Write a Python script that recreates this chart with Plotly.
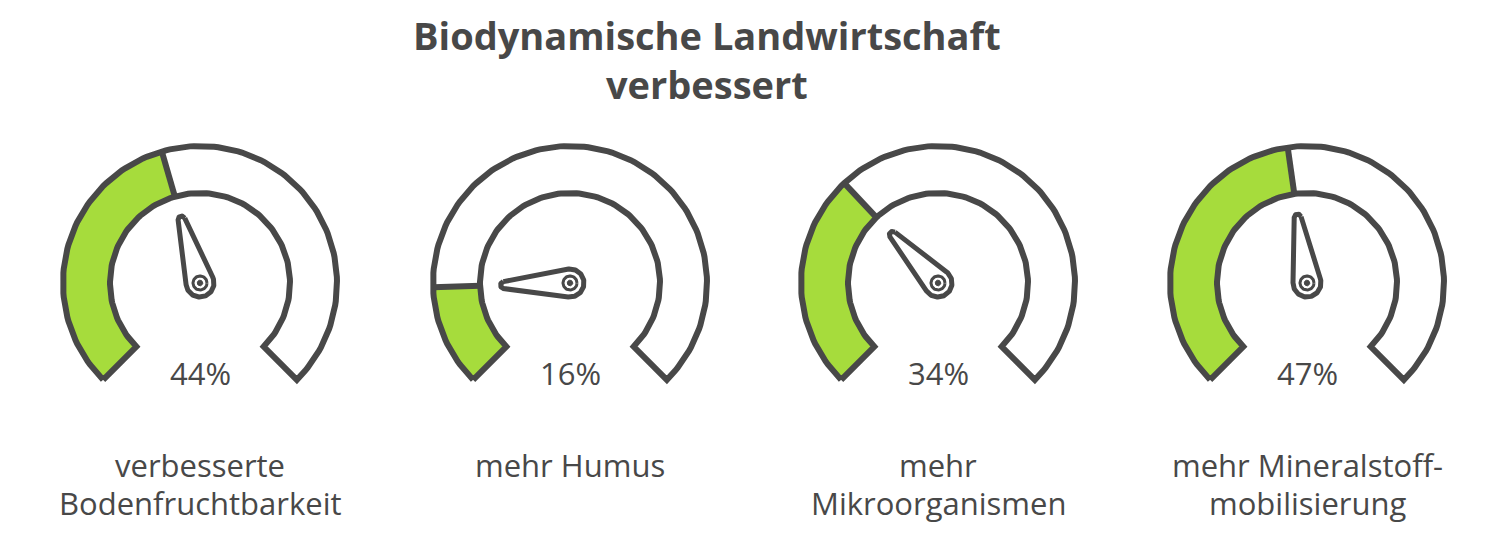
import numpy as np
import plotly.graph_objects as go

# ---- data ----
title_lines = ["Biodynamische Landwirtschaft", "verbessert"]
percents = [44, 16, 34, 47]
labels = [["verbesserte", "Bodenfruchtbarkeit"], ["mehr Humus"],
          ["mehr", "Mikroorganismen"], ["mehr Mineralstoff-", "mobilisierung"]]

# ---- style / layout ----
DARK = "#484848"
GREEN = "#a6dc3c"
FONT = "Open Sans"
W, H = 1500, 540
OFF = 8  # page body margin
centers_x = [200, 570, 938, 1307]
CY = 283
R_OUT, R_IN = 137, 90
START, SWEEP = 225.0, 270.0
NEEDLE_LEN, HUB_R, TIP_R = 66, 14, 3.5

fig = go.Figure()


def pt(cx, r, a, cy=CY):
    t = np.radians(a)
    return cx + r * np.cos(t), cy - r * np.sin(t)


def arc(cx, r, a0, a1, n=160, cy=CY):
    t = np.radians(np.linspace(a0, a1, n))
    return cx + r * np.cos(t), cy - r * np.sin(t)


def add_poly(xs, ys, fill=None, line_color=None, width=0):
    fig.add_trace(go.Scatter(
        x=list(xs), y=list(ys), mode="lines",
        fill="toself" if fill else None,
        fillcolor=fill if fill else None,
        line=dict(color=line_color if line_color else "rgba(0,0,0,0)", width=width),
        hoverinfo="skip", showlegend=False))


for cx, p, lab in zip(centers_x, percents, labels):
    a_val = START - SWEEP * p / 100.0
    a_end = START - SWEEP

    # white ring background
    ox, oy = arc(cx, R_OUT, START, a_end)
    ix, iy = arc(cx, R_IN, a_end, START)
    add_poly(np.r_[ox, ix, ox[:1]], np.r_[oy, iy, oy[:1]], fill="white")

    # green value sector
    gx, gy = arc(cx, R_OUT, START, a_val)
    hx, hy = arc(cx, R_IN, a_val, START)
    add_poly(np.r_[gx, hx, gx[:1]], np.r_[gy, hy, gy[:1]], fill=GREEN)

    # ring outline
    add_poly(np.r_[ox, ix, ox[:1]], np.r_[oy, iy, oy[:1]], line_color=DARK, width=6)

    # divider at value
    x0, y0 = pt(cx, R_IN, a_val)
    x1, y1 = pt(cx, R_OUT, a_val)
    add_poly([x0, x1], [y0, y1], line_color=DARK, width=6)

    # needle (rounded teardrop)
    beta = np.degrees(np.arccos((HUB_R - TIP_R) / NEEDLE_LEN))
    bx, by = arc(cx, HUB_R, a_val + beta, a_val + 360 - beta, 80)
    tcx, tcy = pt(cx, NEEDLE_LEN, a_val)
    t = np.radians(np.linspace(a_val - beta, a_val + beta, 30))
    sx, sy = tcx + TIP_R * np.cos(t), tcy - TIP_R * np.sin(t)
    add_poly(np.r_[sx, bx, sx[:1]], np.r_[sy, by, sy[:1]], fill="white", line_color=DARK, width=5)
    cxs, cys = arc(cx, 7, 0, 360, 60)
    add_poly(cxs, cys, fill="white", line_color=DARK, width=3)
    dxs, dys = arc(cx, 2.8, 0, 360, 30)
    add_poly(dxs, dys, fill=DARK, line_color=DARK, width=1)

    # percentage
    fig.add_annotation(x=cx, y=373, text=f"{p}%", showarrow=False,
                       font=dict(family=FONT, size=31, color=DARK),
                       xanchor="center", yanchor="middle")
    # label lines
    for k, line in enumerate(lab):
        fig.add_annotation(x=cx, y=465 + 38 * k, text=line, showarrow=False,
                           font=dict(family=FONT, size=31, color=DARK),
                           xanchor="center", yanchor="middle")

fig.add_annotation(x=707, y=59, text="<br>".join(title_lines), showarrow=False,
                   font=dict(family=FONT, size=38, color=DARK, weight="bold"),
                   xanchor="center", yanchor="middle", align="center")

fig.update_layout(
    width=W, height=H, margin=dict(l=0, r=0, t=0, b=0),
    paper_bgcolor="white", plot_bgcolor="white",
    xaxis=dict(range=[OFF, W + OFF], visible=False, fixedrange=True),
    yaxis=dict(range=[H + OFF, OFF], visible=False, fixedrange=True),
    showlegend=False,
)

fig.write_html("out.html")
